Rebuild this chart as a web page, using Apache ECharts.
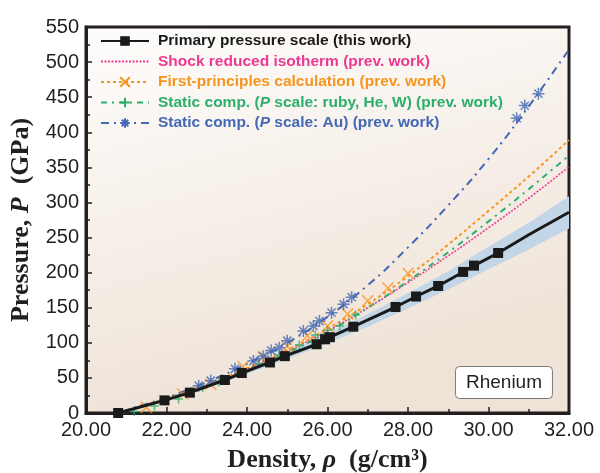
<!DOCTYPE html>
<html>
<head>
<meta charset="utf-8">
<title>Rhenium pressure scale</title>
<script src="https://cdn.jsdelivr.net/npm/echarts@6/dist/echarts.min.js"></script>
<style>
  html, body { margin: 0; padding: 0; background: #fff; }
  #main { width: 600px; height: 473px; }
</style>
</head>
<body>
<div id="main"></div>
<script>
// primary pressure scale (this work): measured points + line extension
var primX = [20.8, 21.95, 22.58, 23.45, 23.87, 24.57, 24.94, 25.73, 25.94, 26.06, 26.64, 27.69, 28.2, 28.75, 29.37, 29.64, 30.24];
var primP = [0, 18, 29, 47, 57, 72, 81, 98, 105, 108, 123, 151, 166, 181, 201, 210, 228];
var primExtX = [31, 32];
var primExtP = [254, 286];

// uncertainty band round the primary line
var bandX = [20.8, 22, 23, 24, 25, 26, 27, 28, 29, 30, 31, 32];
var bandLow = [0, 18, 36, 56, 77, 99, 123, 149, 176, 205, 233, 263];
var bandHigh = [0, 20, 40, 62, 87, 113, 141, 171, 202, 237, 271, 309];

// fitted curves of previous work
var curveX = [20.9, 21, 22, 23, 24, 25, 26, 27, 28, 29, 30, 31, 32];
var shockP = [0, 2, 20, 40, 62, 88, 117, 150, 186, 224, 264, 306, 351];
var fpP = [0, 3, 21, 41, 64, 90, 120, 155, 195, 240, 288, 337, 389];
var rubyP = [0, 3, 20, 39, 61, 86, 115, 150, 188, 229, 273, 319, 367];
var auP = [0, 4, 22, 44, 70, 100, 137, 182, 236, 296, 362, 437, 518];

// data points of previous work
var fpPtsX = [21.5, 22.4, 23.1, 23.9, 24.4, 25.0, 25.5, 26.0, 26.5, 27.0, 27.5, 28.0];
var fpPtsP = [8, 27, 41, 66, 80, 95, 110, 124, 141, 160, 178, 199];
var rubyPtsX = [21.2, 21.7, 22.3, 22.9, 23.3, 23.8, 24.3, 24.8, 25.3, 25.7, 26.0, 26.3, 26.7];
var rubyPtsP = [2, 10, 20, 36, 44, 56, 70, 83, 97, 111, 118, 124, 140];
var auPtsX = [22.8, 23.1, 23.7, 24.16, 24.4, 24.6, 24.8, 25.0, 25.4, 25.65, 25.8, 26.1, 26.4, 26.6, 30.7, 30.9, 31.24];
var auPtsP = [39, 46, 63, 74, 81, 89, 93, 103, 117, 124, 131, 143, 155, 165, 420, 438, 455];

var xTicks = { min: 20, max: 32, step: 2 };
var yTicks = { min: 0, max: 550, step: 50 };

var names = [
    'Primary pressure scale (this work)',
    'Shock reduced isotherm (prev. work)',
    'First-principles calculation (prev. work)',
    'Static comp. ({i|P} scale: ruby, He, W) (prev. work)',
    'Static comp. ({i|P} scale: Au) (prev. work)'
];
var colors = ['#1a1a1a', '#ec3a93', '#f7941d', '#2cae6c', '#4468b6'];

var symX = 'path://M0,0L10,10M10,0L0,10';
var symPlus = 'path://M5,0L5,10M0,5L10,5';
var symStar = 'path://M5,0L5,10M0,5L10,5M1.6,1.6L8.4,8.4M8.4,1.6L1.6,8.4';

function zip(xs, ys) {
    var out = [];
    for (var i = 0; i < xs.length; i++) out.push([xs[i], ys[i]]);
    return out;
}

var primData = zip(primX, primP);
for (var i = 0; i < primExtX.length; i++) {
    primData.push({ value: [primExtX[i], primExtP[i]], symbol: 'none' });
}

var font = '"Liberation Sans", Arial, Helvetica, sans-serif';
var serif = '"Liberation Serif", "Times New Roman", serif';
var noFill = 'rgba(0,0,0,0)';

var myChart = echarts.init(document.getElementById('main'));
var option = {
    animation: false,
    title: {
        text: 'Rhenium',
        right: 47,
        top: 366,
        padding: [7, 11, 7, 11],
        backgroundColor: '#ffffff',
        borderColor: '#7a7a7a',
        borderWidth: 1,
        borderRadius: 4,
        textStyle: { fontFamily: font, fontSize: 19, fontWeight: 'normal', color: '#231f20' }
    },
    legend: {
        left: 95,
        top: 28,
        orient: 'vertical',
        itemWidth: 48,
        itemHeight: 12,
        itemGap: 4.5,
        selectedMode: false,
        textStyle: {
            fontFamily: font,
            fontSize: 15.5,
            fontWeight: 'bold',
            padding: [0, 0, 0, 4],
            rich: { i: { fontStyle: 'italic', fontWeight: 'bold', fontSize: 15.5, fontFamily: font } }
        },
        data: names.map(function (n, k) {
            return { name: n, textStyle: { color: colors[k], rich: { i: { color: colors[k] } } } };
        })
    },
    grid: {
        left: 86, right: 31, top: 27, bottom: 60,
        outerBoundsMode: 'none',
        containLabel: false,
        show: true,
        borderColor: '#231f20',
        borderWidth: 3,
        backgroundColor: {
            type: 'linear', x: 0, y: 0, x2: 0.2, y2: 1,
            colorStops: [
                { offset: 0, color: '#fefdfc' },
                { offset: 1, color: '#efe3d7' }
            ]
        }
    },
    xAxis: {
        type: 'value',
        min: xTicks.min, max: xTicks.max, interval: xTicks.step,
        name: 'Density, {i|ρ}  (g/cm³)',
        nameLocation: 'middle',
        nameGap: 34,
        nameTextStyle: {
            fontFamily: serif, fontSize: 26, fontWeight: 'bold', color: '#231f20',
            rich: { i: { fontFamily: serif, fontSize: 26, fontWeight: 'bold', fontStyle: 'italic', color: '#231f20' } }
        },
        axisLine: { lineStyle: { color: '#231f20', width: 3 } },
        axisTick: { inside: true, length: 6, lineStyle: { color: '#231f20', width: 1.5 } },
        minorTick: { show: true, splitNumber: 2, length: 4, lineStyle: { color: '#231f20', width: 1.5 } },
        splitLine: { show: false },
        axisLabel: {
            margin: 7, fontFamily: font, fontSize: 20, color: '#231f20',
            formatter: function (v) { return v.toFixed(2); }
        }
    },
    yAxis: {
        type: 'value',
        min: yTicks.min, max: yTicks.max, interval: yTicks.step,
        name: 'Pressure, {i|P}  (GPa)',
        nameLocation: 'middle',
        nameGap: 50,
        nameTextStyle: {
            fontFamily: serif, fontSize: 26, fontWeight: 'bold', color: '#231f20',
            rich: { i: { fontFamily: serif, fontSize: 26, fontWeight: 'bold', fontStyle: 'italic', color: '#231f20' } }
        },
        axisLine: { lineStyle: { color: '#231f20', width: 3 } },
        axisTick: { inside: true, length: 6, lineStyle: { color: '#231f20', width: 1.5 } },
        minorTick: { show: true, splitNumber: 2, length: 4, lineStyle: { color: '#231f20', width: 1.5 } },
        splitLine: { show: false },
        axisLabel: { margin: 7, fontFamily: font, fontSize: 20, color: '#231f20' }
    },
    series: [
        {
            name: 'band', type: 'custom', silent: true, z: 1,
            data: [[bandX[0], bandLow[0]]],
            renderItem: function (params, api) {
                var pts = [];
                for (var i = 0; i < bandX.length; i++) pts.push(api.coord([bandX[i], bandHigh[i]]));
                for (var j = bandX.length - 1; j >= 0; j--) pts.push(api.coord([bandX[j], bandLow[j]]));
                return { type: 'polygon', shape: { points: pts }, style: { fill: '#c3d6e7' } };
            }
        },
        {
            name: names[1], type: 'line', data: zip(curveX, shockP), smooth: true,
            symbol: 'none', z: 3,
            itemStyle: { color: noFill },
            lineStyle: { color: colors[1], width: 1.6, type: [2, 1.5] }
        },
        {
            name: names[2], type: 'line', data: zip(curveX, fpP), smooth: true,
            symbol: symX, symbolSize: 10, showSymbol: false, z: 3,
            itemStyle: { color: noFill, borderColor: colors[2], borderWidth: 1.5 },
            lineStyle: { color: colors[2], width: 2, type: [3, 3] }
        },
        {
            name: names[3], type: 'line', data: zip(curveX, rubyP), smooth: true,
            symbol: symPlus, symbolSize: 10, showSymbol: false, z: 3,
            itemStyle: { color: noFill, borderColor: colors[3], borderWidth: 1.5 },
            lineStyle: { color: colors[3], width: 2, type: [6, 5, 2, 5] }
        },
        {
            name: names[4], type: 'line', data: zip(curveX, auP), smooth: true,
            symbol: symStar, symbolSize: 11, showSymbol: false, z: 3,
            itemStyle: { color: noFill, borderColor: colors[4], borderWidth: 1.5 },
            lineStyle: { color: colors[4], width: 2, type: [8, 5, 2, 5] }
        },
        {
            name: names[2], type: 'scatter', data: zip(fpPtsX, fpPtsP), symbol: symX, symbolSize: 11, z: 4,
            itemStyle: { color: noFill, borderColor: colors[2], borderWidth: 1.5 }
        },
        {
            name: names[3], type: 'scatter', data: zip(rubyPtsX, rubyPtsP), symbol: symPlus, symbolSize: 9, z: 4,
            itemStyle: { color: noFill, borderColor: colors[3], borderWidth: 1.5 }
        },
        {
            name: names[4], type: 'scatter', data: zip(auPtsX, auPtsP), symbol: symStar, symbolSize: 12, z: 4,
            itemStyle: { color: noFill, borderColor: colors[4], borderWidth: 1.5 }
        },
        {
            name: names[0], type: 'line', data: primData,
            symbol: 'rect', symbolSize: 10, showAllSymbol: true, z: 5,
            itemStyle: { color: colors[0] },
            lineStyle: { color: colors[0], width: 3 }
        }
    ]
};
myChart.setOption(option);
</script>
</body>
</html>
